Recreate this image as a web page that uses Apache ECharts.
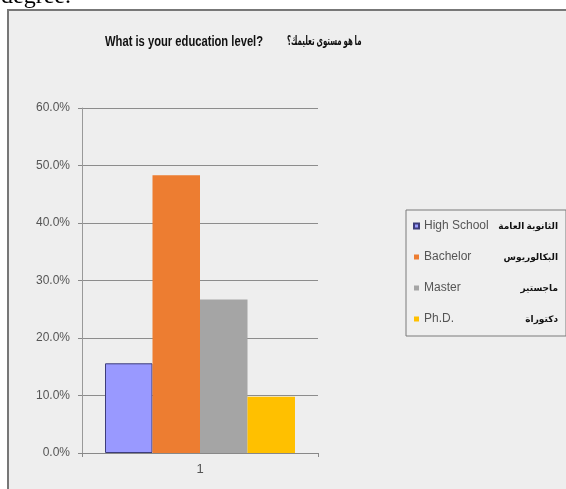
<!DOCTYPE html>
<html><head><meta charset="utf-8">
<script src="https://cdn.jsdelivr.net/npm/echarts@6/dist/echarts.min.js"></script>
<style>html,body{margin:0;padding:0;background:#fff;}#c{width:566px;height:489px;}</style>
</head><body><div id="c"></div>
<script>
const categories = ['1'];
const seriesNames = ['High School', 'Bachelor', 'Master', 'Ph.D.'];
const seriesArabic = ['الثانوية العامة', 'البكالوريوس', 'ماجستير', 'دكتوراة'];
const seriesValues = [15.6, 48.3, 26.7, 9.8];
const seriesColors = ['#9999ff', '#ed7d31', '#a5a5a5', '#ffc000'];
const yTicks = [0, 10, 20, 30, 40, 50, 60];
const titleEn = 'What is your education level?';
const titleAr = 'ما هو مستوى تعليمك؟';

const chart = echarts.init(document.getElementById('c'));
const arMap = {};
seriesNames.forEach((n, i) => arMap[n] = seriesArabic[i]);

chart.setOption({
  backgroundColor: '#ffffff',
  animation: false,
  graphic: [
    { type: 'text', x: 1, y: -15, z: 0,
      style: { text: 'degree.', font: '24px "Liberation Serif"', fill: '#000' } },
    { type: 'rect', z: -10, shape: { x: 8, y: 10, width: 600, height: 520 },
      style: { fill: '#eeeeee', stroke: '#777777', lineWidth: 2 } },
    { type: 'text', x: 105, y: 35, z: 5, scaleX: 0.8,
      style: { text: titleEn, font: 'bold 14px "Liberation Sans"', fill: '#111' } },
    { type: 'text', x: 287, y: 35, z: 5, scaleX: 0.54,
      style: { text: titleAr, font: 'bold 13px "Noto Sans", "DejaVu Sans"', fill: '#111' } }
  ],
  grid: { left: 82, right: 248, top: 108, bottom: 36, containLabel: false },
  legend: {
    orient: 'vertical', left: 406, top: 210,
    data: seriesNames,
    icon: 'rect', itemWidth: 5, itemHeight: 5, itemGap: 19,
    padding: [10, 8, 11, 7],
    backgroundColor: '#efefef', borderColor: '#7a7a7a', borderWidth: 1,
    formatter: n => '{en|' + n + '}{ar|' + arMap[n] + '}',
    textStyle: {
      rich: {
        en: { width: 80, align: 'left', fontFamily: '"Liberation Sans"', fontSize: 12, color: '#555', lineHeight: 12 },
        ar: { width: 54, align: 'right', fontFamily: '"Noto Sans", "DejaVu Sans"', fontWeight: 'bold', fontSize: 9, color: '#111', lineHeight: 12 }
      }
    }
  },
  xAxis: {
    type: 'category', data: categories,
    axisLine: { lineStyle: { color: '#888', width: 1 } },
    axisTick: { show: true, length: 4, lineStyle: { color: '#888' } },
    axisLabel: { color: '#555', fontSize: 13, margin: 10, fontFamily: '"Liberation Sans"' }
  },
  yAxis: {
    type: 'value', min: yTicks[0], max: yTicks[yTicks.length - 1], interval: 10,
    axisLine: { show: true, lineStyle: { color: '#999', width: 1 } },
    axisTick: { show: true, length: 4, lineStyle: { color: '#888' } },
    axisLabel: { color: '#555', fontSize: 12, margin: 12, fontFamily: '"Liberation Sans"',
      formatter: v => v.toFixed(1) + '%' },
    splitLine: { lineStyle: { color: '#8c8c8c', width: 1 } }
  },
  series: seriesNames.map((n, i) => ({
    name: n, type: 'bar', data: [seriesValues[i]],
    barGap: '0%', barCategoryGap: '19.5%',
    itemStyle: i === 0 ? { color: seriesColors[i], borderColor: '#3d3d7a', borderWidth: 1 } : { color: seriesColors[i] }
  }))
});
</script></body></html>
